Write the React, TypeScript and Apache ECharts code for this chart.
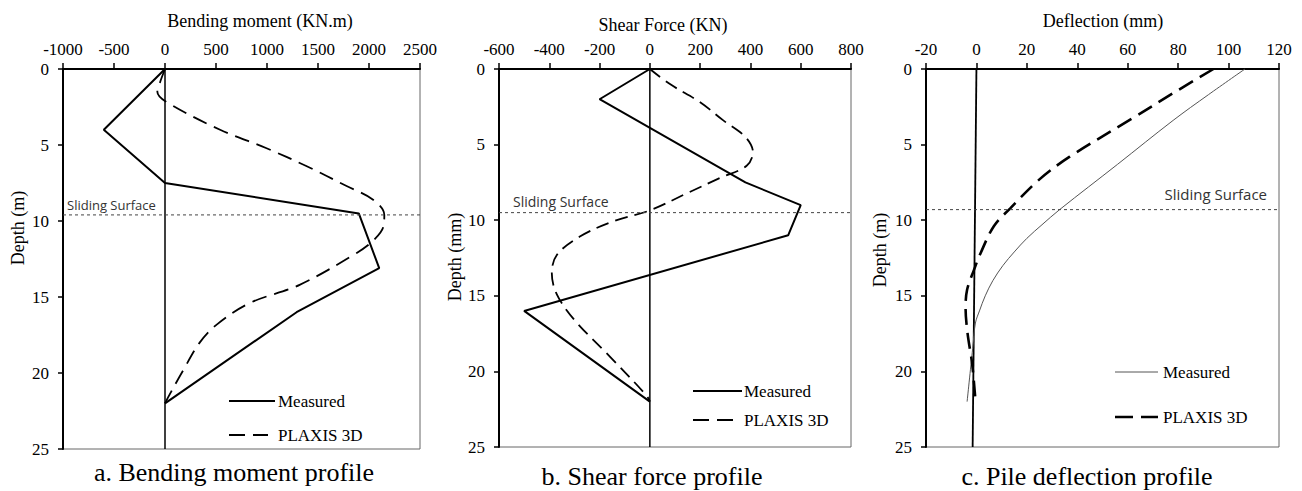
import React, { useEffect, useRef } from "react";
import * as echarts from "echarts";

// ---- Data (value, depth) ----
const measuredA = [[0, 0], [-600, 4], [0, 7.5], [1900, 9.5], [2100, 13.1], [1290, 16], [0, 22]];
const plaxisA = [[0, 0], [-50, 0.9], [-75, 1.5], [10, 2.15], [540, 4.0], [990, 5.2], [1390, 6.4], [1780, 7.7], [2040, 8.6], [2150, 9.6], [2140, 10.4], [2040, 11.3], [1880, 12.1], [1320, 14.2], [830, 15.4], [510, 16.8], [340, 18], [180, 19.8], [30, 21.6], [0, 22]];
const slideDepthA = 9.6;

const measuredB = [[0, 0], [-200, 2], [380, 7.5], [600, 9], [550, 11], [-500, 16], [0, 22]];
const plaxisB = [[0, 0], [80, 1], [200, 2.2], [292, 3.4], [380, 4.5], [410, 5.5], [385, 6.4], [280, 7.2], [150, 8.2], [0, 9.35], [-150, 10.1], [-280, 11.1], [-370, 12.3], [-390, 13.5], [-370, 14.9], [-300, 16.6], [-160, 19], [-13, 21.6], [0, 22]];
const slideDepthB = 9.5;

const measuredC = [[106.5, 0], [92, 1.7], [78, 3.4], [56, 6.3], [33, 9.3], [26, 10.3], [20, 11.2], [15, 12.1], [10.5, 13], [6.5, 14], [3.5, 15], [1.2, 16], [-0.4, 16.8], [-1.5, 18.5], [-3.7, 22]];
const plaxisC = [[94, 0], [78, 1.6], [62, 3.25], [37, 5.8], [25, 7.3], [13.5, 9.2], [6.9, 10.4], [1.6, 12.2], [-1, 13.3], [-3.7, 14.6], [-4.3, 15.8], [-3.5, 17.5], [-1.7, 19.5], [-0.4, 21.9]];
const pileC = [[0, 0], [-1.5, 25]];
const slideDepthC = 9.3;

const xRanges = [
  { min: -1000, max: 2500, interval: 500 },
  { min: -600, max: 800, interval: 200 },
  { min: -20, max: 120, interval: 20 },
];
const depthRange = { min: 0, max: 25, interval: 5 };

const xTitles = ["Bending moment (KN.m)", "Shear Force (KN)", "Deflection (mm)"];
const yTitles = ["Depth (m)", "Depth (mm)", "Depth (m)"];
const captions = ["a. Bending moment profile", "b. Shear force profile", "c. Pile deflection profile"];
const legendNames = ["Measured", "PLAXIS 3D"];
const slideLabel = "Sliding Surface";

const SERIF = "'Liberation Serif', 'Times New Roman', serif";
const SANS = "'Open Sans', 'Noto Sans', sans-serif";

export default function App() {
  const ref = useRef<HTMLDivElement>(null);
  useEffect(() => {
    const chart = echarts.init(ref.current!, null, { renderer: "svg" });
    const grids = [
      { left: 63, top: 69, width: 357, height: 380 },
      { left: 499, top: 69, width: 352, height: 378 },
      { left: 926, top: 69, width: 353, height: 378 },
    ];
    const fmt = (v: number) => String(v);
    const xAxis = xRanges.map((r, i) => ({
      type: "value",
      gridIndex: i,
      position: "top",
      min: r.min,
      max: r.max,
      interval: r.interval,
      axisLine: { show: true, onZero: false, lineStyle: { color: "#000", width: 2 } },
      axisTick: { show: true, length: 6, lineStyle: { color: "#000", width: 1.5 } },
      axisLabel: { fontFamily: SERIF, fontSize: 17, color: "#000", margin: 11, formatter: fmt },
      splitLine: { show: false },
    }));
    const yAxis = xRanges.map((_, i) => ({
      type: "value",
      gridIndex: i,
      inverse: true,
      min: depthRange.min,
      max: depthRange.max,
      interval: depthRange.interval,
      axisLine: { show: true, onZero: false, lineStyle: { color: "#000", width: 2 } },
      axisTick: { show: true, length: 5, lineStyle: { color: "#000", width: 1.5 } },
      axisLabel: { fontFamily: SERIF, fontSize: 17, color: "#000", margin: 14, formatter: fmt },
      splitLine: { show: false },
    }));

    const line = (name: string, idx: number, data: number[][], style: any, smooth: number | boolean = false) => ({
      name,
      type: "line",
      xAxisIndex: idx,
      yAxisIndex: idx,
      data,
      showSymbol: false,
      symbol: "none",
      smooth,
      silent: true,
      clip: false,
      lineStyle: style,
    });
    const slideStyle = { color: "#444", width: 1, type: [3, 3] };

    const series = [
      line("Zero", 0, [[0, 0], [0, 25]], { color: "#000", width: 1.5 }),
      line("Measured", 0, measuredA, { color: "#000", width: 2 }),
      line("PLAXIS 3D", 0, plaxisA, { color: "#000", width: 1.8, type: [15, 8] }, 0.35),
      line("Sliding Surface", 0, [[xRanges[0].min, slideDepthA], [xRanges[0].max, slideDepthA]], slideStyle),

      line("Zero", 1, [[0, 0], [0, 25]], { color: "#000", width: 1.5 }),
      line("Measured", 1, measuredB, { color: "#000", width: 2 }),
      line("PLAXIS 3D", 1, plaxisB, { color: "#000", width: 1.8, type: [13, 7] }, 0.35),
      line("Sliding Surface", 1, [[xRanges[1].min, slideDepthB], [xRanges[1].max, slideDepthB]], slideStyle),

      line("Pile", 2, pileC, { color: "#000", width: 1.8 }),
      line("Measured", 2, measuredC, { color: "#555", width: 1 }, 0.35),
      line("PLAXIS 3D", 2, plaxisC, { color: "#000", width: 2.6, type: [16, 8] }, 0.35),
      line("Sliding Surface", 2, [[xRanges[2].min, slideDepthC], [xRanges[2].max, slideDepthC]], slideStyle),
    ];

    const text = (t: string, x: number, y: number, size: number, family: string, opts: any = {}) => ({
      type: "text",
      x,
      y,
      rotation: opts.rotation || 0,
      silent: true,
      style: {
        text: t,
        fontSize: size,
        fontFamily: family,
        fill: opts.fill || "#000",
        align: opts.align || "center",
        verticalAlign: "middle",
      },
    });
    const seg = (x1: number, y1: number, x2: number, y2: number, width: number, dash: any, stroke = "#000") => ({
      type: "line",
      silent: true,
      shape: { x1, y1, x2, y2 },
      style: { stroke, lineWidth: width, lineDash: dash },
    });

    const graphic = [
      text(xTitles[0], 260, 21, 18, SERIF),
      text(xTitles[1], 663, 25, 18, SERIF),
      text(xTitles[2], 1103, 21, 18, SERIF),
      text(yTitles[0], 18, 228, 18, SERIF, { rotation: Math.PI / 2 }),
      text(yTitles[1], 455, 257, 18, SERIF, { rotation: Math.PI / 2 }),
      text(yTitles[2], 880, 250, 18, SERIF, { rotation: Math.PI / 2 }),
      text(captions[0], 234, 472, 26, SERIF),
      text(captions[1], 652, 476, 26, SERIF),
      text(captions[2], 1087, 476, 26, SERIF),
      text(slideLabel, 67, 205, 13, SANS, { align: "left", fill: "#333" }),
      text(slideLabel, 513, 201, 14, SANS, { align: "left", fill: "#333" }),
      text(slideLabel, 1267, 194, 15, SANS, { align: "right", fill: "#333" }),
      // legends
      seg(229, 401, 275, 401, 2, null),
      text(legendNames[0], 278, 401, 17, SERIF, { align: "left" }),
      seg(229, 435, 268, 435, 1.8, [16, 8]),
      text(legendNames[1], 278, 435, 17, SERIF, { align: "left" }),
      seg(693, 391, 742, 391, 2, null),
      text(legendNames[0], 744, 391, 17, SERIF, { align: "left" }),
      seg(693, 420, 733, 420, 1.8, [16, 8]),
      text(legendNames[1], 744, 420, 17, SERIF, { align: "left" }),
      seg(1115, 372, 1158, 372, 1, null, "#555"),
      text(legendNames[0], 1163, 372, 17, SERIF, { align: "left" }),
      seg(1115, 417, 1158, 417, 2.6, [18, 8]),
      text(legendNames[1], 1163, 417, 17, SERIF, { align: "left" }),
    ];

    chart.setOption({
      animation: false,
      backgroundColor: "#fff",
      grid: grids.map((g) => ({ ...g, show: true, borderColor: "#666", borderWidth: 1, backgroundColor: "transparent" })),
      xAxis,
      yAxis,
      series,
      graphic,
    });
    return () => chart.dispose();
  }, []);
  return (
    <div
      ref={ref}
      style={{ position: "fixed", left: 0, top: 0, width: 1302, height: 491, background: "#fff" }}
    />
  );
}
